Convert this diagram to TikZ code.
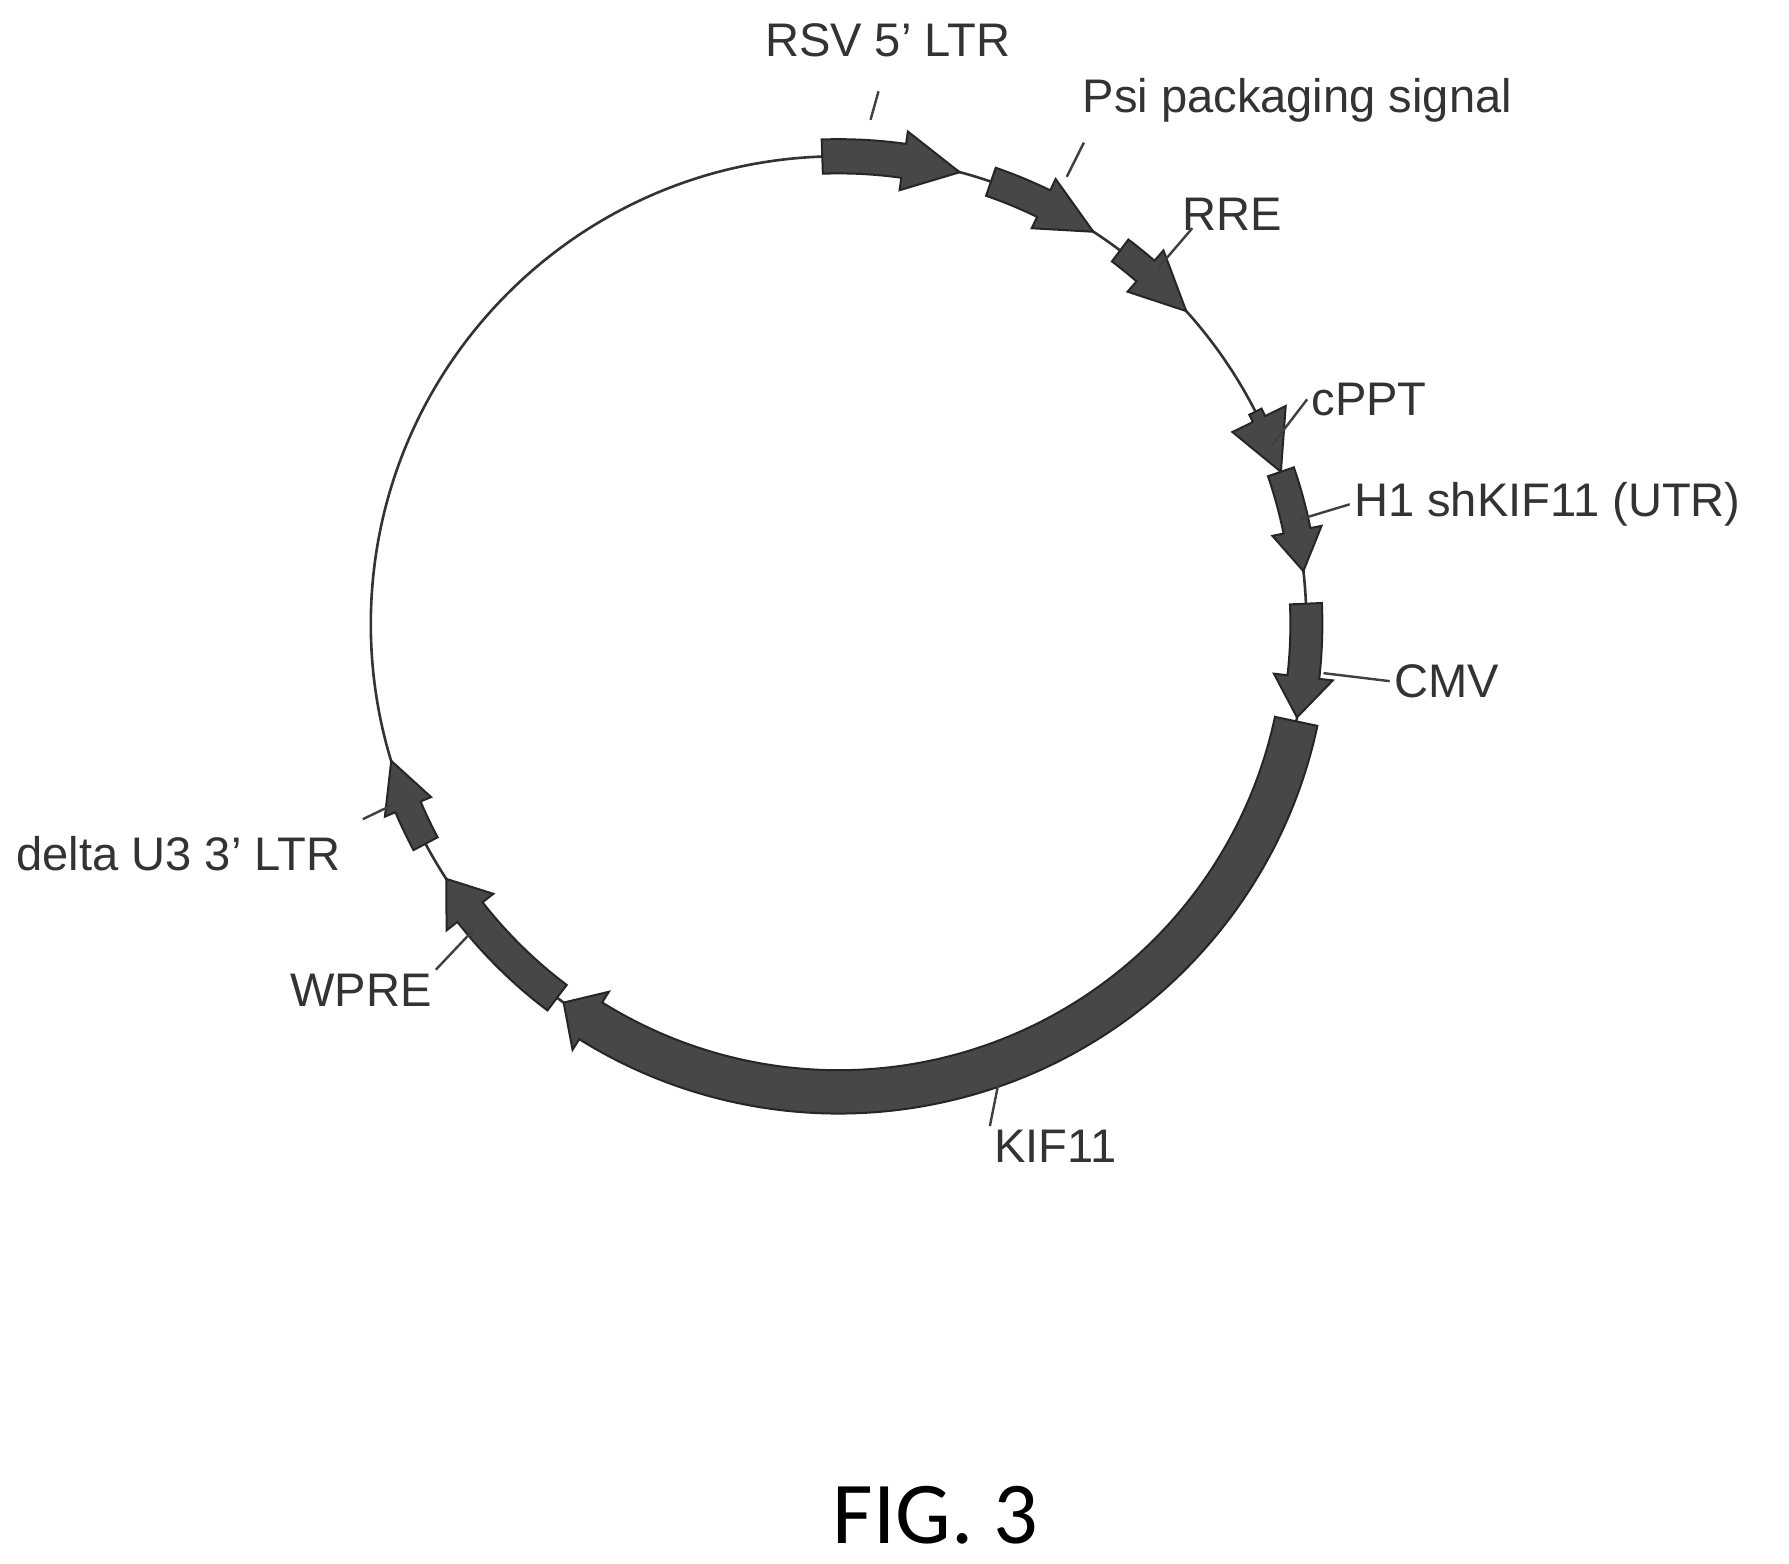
\documentclass[tikz,border=0pt]{standalone}
\usepackage{fontspec}
\setmainfont{Liberation Sans}
\newfontfamily\capfont{Carlito}
\tikzset{
 featfill/.style={fill=black!72, draw=black!85, line width=1pt},
 lbl/.style={font=\fontsize{23.5}{27}\selectfont, text=black!80, inner sep=2pt},
 leader/.style={draw=black!75, line width=1.2pt}
}
\newcommand{\feat}[5]{%
 \path[featfill] ({#1}:{410+#3}) arc[start angle=#1, end angle={#2+#5}, radius={410+#3}]
  -- ({#2+#5}:{410+#4}) -- (#2:410) -- ({#2+#5}:{410-#4}) -- ({#2+#5}:{410-#3})
  arc[start angle={#2+#5}, end angle=#1, radius={410-#3}] -- cycle;}
\begin{document}
\begin{tikzpicture}[x=0.02cm,y=0.02cm]
\useasboundingbox[fill=white] (0,0) rectangle (1568,1370);
\begin{scope}[shift={(735,823)}]
 \draw[black!80, line width=1.3pt] (0,0) circle[radius=410];
 \feat{92}{75}{15}{26}{7}
 \feat{71}{57}{13}{24}{7}
 \feat{53}{42}{12}{24}{7}
 \feat{27}{19}{6}{26}{7}
 \feat{19}{6.5}{12}{22}{5}
 \feat{2.5}{-11.5}{14}{26}{5}
 \feat{-12}{-126}{19}{30}{4}
 \feat{-127}{-147}{14}{26}{5}
 \feat{-152}{-163}{12}{22}{6}
\end{scope}
\node[lbl] (rsv) at (778,1335) {RSV 5' LTR};
\node[lbl, anchor=west] (psi) at (945,1282) {Psi packaging signal};
\node[lbl] (rre) at (1080,1182) {RRE};
\node[lbl] (cppt) at (1200,1020) {cPPT};
\node[lbl, anchor=west] (h1) at (1183,928) {H1 shKIF11 (UTR)};
\node[lbl, anchor=west] (cmv) at (1218,773) {CMV};
\node[lbl] (kif) at (925,365) {KIF11};
\node[lbl, anchor=east] (wpre) at (382,502) {WPRE};
\node[lbl, anchor=east] (ltr3) at (302,622) {delta U3 3' LTR};
\node[font=\capfont\fontsize{44}{50}\selectfont] (fig) at (820,42) {FIG. 3};
\coordinate (c1) at (763,1265);
\coordinate (c2) at (935,1215);
\coordinate (c3) at (1015,1135);
\coordinate (c4) at (1115,980);
\coordinate (c5) at (1140,915);
\coordinate (c6) at (1160,780);
\coordinate (c7) at (875,420);
\coordinate (c8) at (415,555);
\coordinate (c9) at (345,665);
\draw[leader] (770,1290) -- (c1);
\draw[leader] (950,1245) -- (c2);
\draw[leader] (1045,1170) -- (c3);
\draw[leader] (cppt.west) -- (c4);
\draw[leader] (h1.west) -- (c5);
\draw[leader] (cmv.west) -- (c6);
\draw[leader] (kif.north west) -- (c7);
\draw[leader] (wpre.north east) -- (c8);
\draw[leader] (318,652) -- (c9);
\end{tikzpicture}
\end{document}
